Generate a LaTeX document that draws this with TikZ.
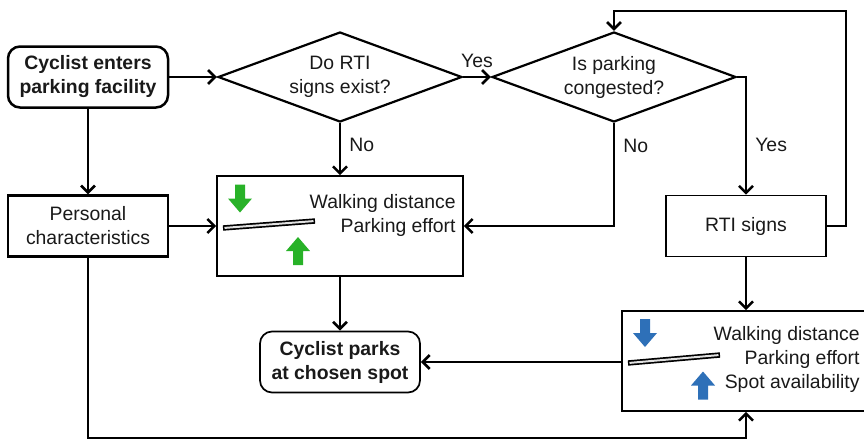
\documentclass[tikz,border=0pt]{standalone}
\usepackage{fontspec}
\setmainfont{Liberation Sans}
\usetikzlibrary{shapes.geometric,arrows.meta}

\definecolor{upgreen}{RGB}{40,178,40}
\definecolor{rtiblue}{RGB}{46,112,184}
\definecolor{barfill}{RGB}{225,225,225}
\definecolor{ink}{RGB}{25,25,25}

\tikzset{
  txt/.style={font=\fontsize{9.7}{12}\selectfont, text=ink},
  box/.style={draw, line width=1.1pt, minimum width=80pt, minimum height=30.5pt,
    align=center, inner sep=0pt, txt},
  thinbox/.style={draw, line width=0.8pt, align=center, inner sep=0pt, txt},
  rbox/.style={box, rounded corners=6pt, font=\fontsize{9.7}{12}\selectfont\bfseries},
  decision/.style={draw, diamond, aspect=2.71, line width=1.1pt, minimum width=122pt,
    minimum height=45pt, align=center, inner sep=0pt, txt},
  flow/.style={line width=1.3pt, -{Straight Barb[length=3.5pt,width=7pt]}},
  lbl/.style={txt, inner sep=4pt},
  scale bar/.style={line width=2.7pt, black, line cap=butt},
  scale bar fill/.style={line width=1pt, barfill, line cap=butt},
  % filled block arrows, drawn around their centre
  downblk/.pic={\fill (-5,-14) -- (5,-14) -- (5,0) -- (12,0) -- (0,14) -- (-12,0) -- (-5,0) -- cycle;},
  upblk/.pic={\fill (-5,14) -- (5,14) -- (5,0) -- (12,0) -- (0,-14) -- (-12,0) -- (-5,0) -- cycle;},
}

\begin{document}
\begin{tikzpicture}[x=0.5pt,y=-0.5pt]
\useasboundingbox (0,0) rectangle (864,441);
\clip (0,0) rectangle (864,441);

% process steps
\node[rbox, line width=1.25pt] (enter) at (88,77) {Cyclist enters\\parking facility};
\node[box] (pers) at (88,226) {Personal\\characteristics};
\node[decision] (d1) at (340,77) {Do RTI\\signs exist?};
\node[decision] (d2) at (614,77) {Is parking\\congested?};
\node[thinbox, minimum width=123pt, minimum height=50pt] (green) at (340,226) {};
\node[thinbox, minimum width=80pt, minimum height=30.5pt] (rti) at (746,226) {RTI signs};
\node[thinbox, minimum width=124pt, minimum height=50pt] (blue) at (746,361) {};
\node[rbox, line width=0.85pt, minimum height=30.5pt] (park) at (340,362) {Cyclist parks\\at chosen spot};

% contents of the effect boxes
\node[txt, anchor=east, align=right, inner sep=0pt] (gtext) at (456,215.5)
  {Walking distance\\Parking effort};
\pic[upgreen] at (240,198.5) {downblk};
\pic[upgreen] at (298,251) {upblk};
\draw[scale bar] (223,228) -- (315,221);
\draw[scale bar fill] (224.5,227.9) -- (313.5,221.1);

\node[txt, anchor=east, align=right, inner sep=0pt] (btext) at (860,359.5)
  {Walking distance\\Parking effort\\Spot availability};
\pic[rtiblue] at (645,333) {downblk};
\pic[rtiblue] at (703,385.5) {upblk};
\draw[scale bar] (628,363) -- (720,355);
\draw[scale bar fill] (629.5,362.9) -- (718.5,355.1);

% connectors
\coordinate (loop) at (846,11);
\coordinate (bottom) at (88,438);

\draw[flow] (enter.east) -- (d1.west);
\draw[flow] (d1.east) -- node[lbl, above] {Yes} (d2.west);
\draw[flow] (d1.south) -- node[lbl, right, pos=0.42] {No} (green.north);
\draw[flow] (d2.south) |- node[lbl, right, pos=0.11] {No} (green.east);
\draw[flow] (d2.east) -| node[lbl, right, pos=0.79] {Yes} (rti.north);
\draw[flow] (rti.east) -| (loop) -| (d2.north);
\draw[flow] (enter.south) -- (pers.north);
\draw[flow] (pers.east) -- (green.west);
\draw[flow] (pers.south) -- (bottom) -| (blue.south);
\draw[flow] (rti.south) -- (blue.north);
\draw[flow] (green.south) -- (park.north);
\draw[flow] (blue.west |- park.east) -- (park.east);
\end{tikzpicture}
\end{document}
